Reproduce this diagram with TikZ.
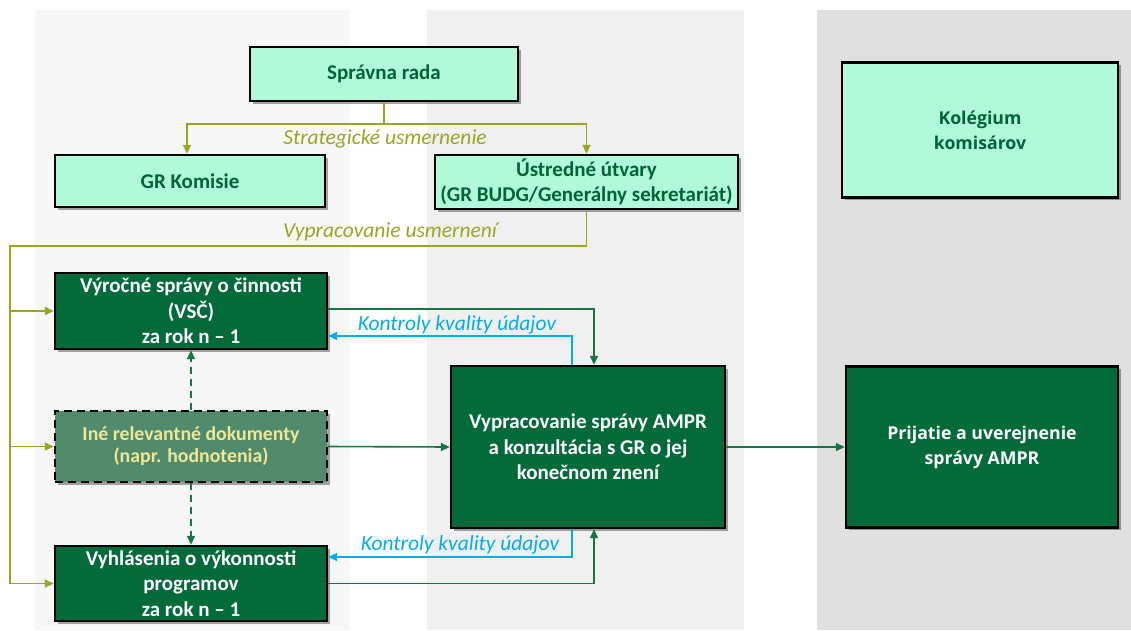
\documentclass[tikz,border=0pt]{standalone}
\usepackage{fontspec}
\setmainfont{Carlito}
\newfontfamily\opensans{Open Sans}
\usetikzlibrary{arrows.meta}
\usetikzlibrary{shadows}
\usetikzlibrary{calc}
\definecolor{mint}{RGB}{176,250,218}
\definecolor{deepgreen}{RGB}{3,106,58}
\definecolor{textgreen}{RGB}{0,100,52}
\definecolor{linegreen}{RGB}{22,118,68}
\definecolor{guide}{RGB}{155,166,32}
\definecolor{checkblue}{RGB}{0,174,239}
\definecolor{otherfill}{RGB}{82,138,108}
\definecolor{othertext}{RGB}{238,232,150}
\definecolor{bandA}{RGB}{247,247,247}
\definecolor{bandB}{RGB}{240,240,240}
\definecolor{bandC}{RGB}{224,224,224}
\tikzset{
    box/.style={draw=black, line width=2.4pt, align=center, inner sep=0pt,
        font=\bfseries\fontsize{21}{25.5}\selectfont,
        drop shadow={shadow xshift=2.5pt, shadow yshift=-2.5pt, opacity=.35, fill=black}},
    light/.style={box, fill=mint, text=textgreen},
    dark/.style={box, fill=deepgreen, text=white},
    other/.style={box, fill=otherfill, text=othertext, dash pattern=on 8pt off 5pt,
        font=\bfseries\fontsize{19.8}{22}\selectfont},
    wide/.style={font=\opensans\bfseries\fontsize{17.7}{25}\selectfont},
    tip/.style={-{Triangle[width=8pt,length=9pt]}},
    guideline/.style={draw=guide, line width=1.6pt},
    flow/.style={draw=linegreen, line width=1.6pt},
    check/.style={draw=checkblue, line width=1.8pt},
    note/.style={font=\itshape\fontsize{21.5}{24}\selectfont}
}
\begin{document}
\begin{tikzpicture}[x=1pt, y=-1pt]
    \useasboundingbox (0,0) rectangle (1131,630);
    \fill[bandA] (35,10) rectangle (350,630);
    \fill[bandB] (427,10) rectangle (744,630);
    \fill[bandC] (817,10) rectangle (1131,630);

    \node[light, minimum width=268pt, minimum height=54pt] (board) at (384,74) {Správna rada};
    \node[light, minimum width=270pt, minimum height=52pt] (dgs) at (190,181) {GR Komisie};
    \node[light, minimum width=303pt, minimum height=54pt] (central) at (586.5,182)
        {Ústredné útvary\\(GR BUDG/Generálny sekretariát)};
    \node[light, wide, minimum width=276pt, minimum height=135pt] (college) at (980,130)
        {Kolégium\\komisárov};

    \node[dark, minimum width=272pt, minimum height=76pt] (aar) at (191,311)
        {Výročné správy o činnosti\\(VSČ)\\za rok n -- 1};
    \node[other, minimum width=272pt, minimum height=71pt] (docs) at (191,446.5)
        {Iné relevantné dokumenty\\(napr. hodnotenia)};
    \node[dark, minimum width=272pt, minimum height=75pt] (ps) at (191,583.5)
        {Vyhlásenia o výkonnosti\\programov\\za rok n -- 1};
    \node[dark, minimum width=274pt, minimum height=162pt] (draft) at (588,447)
        {Vypracovanie správy AMPR\\a konzultácia s GR o jej\\konečnom znení};
    \node[dark, wide, minimum width=272pt, minimum height=161pt] (adopt) at (982,447)
        {Prijatie a uverejnenie\\správy AMPR};

    \coordinate (split) at (384,124);
    \coordinate (rail) at (10,246);
    \draw[guideline] (board.south) -- (split);
    \draw[guideline, tip] (split) -| ([xshift=-3pt]dgs.north);
    \draw[guideline, tip] (split) -| (central.north);
    \node[note, text=guide] (strat) at (385,139) {Strategické usmernenie};

    \draw[guideline] (central.south) |- (rail) -- (rail |- ps.west);
    \draw[guideline, tip] (rail |- aar.west) -- (aar.west);
    \draw[guideline, tip] (rail |- docs.west) -- (docs.west);
    \draw[guideline, tip] (rail |- ps.west) -- (ps.west);
    \node[note, text=guide] (guidance) at (390,232) {Vypracovanie usmernení};

    \draw[flow, tip] ([yshift=2pt]aar.east) -| ([xshift=6pt]draft.north);
    \draw[flow, tip] (ps.east) -| ([xshift=6pt]draft.south);
    \draw[flow, tip] (docs.east) -- (draft.west);
    \draw[flow, tip] (draft.east) -- (adopt.west);
    \draw[flow, tip, dash pattern=on 7pt off 5pt] (docs.north) -- (aar.south);
    \draw[flow, tip, dash pattern=on 7pt off 5pt] (docs.south) -- (ps.north);

    \draw[check, tip] ([xshift=-16pt]draft.north) |- ([yshift=-25pt]aar.east);
    \draw[check, tip] ([xshift=-16pt]draft.south) |- ([yshift=26.5pt]ps.east);
    \node[note, text=checkblue] (qc1) at (457,325) {Kontroly kvality údajov};
    \node[note, text=checkblue] (qc2) at (460,545) {Kontroly kvality údajov};
\end{tikzpicture}
\end{document}
